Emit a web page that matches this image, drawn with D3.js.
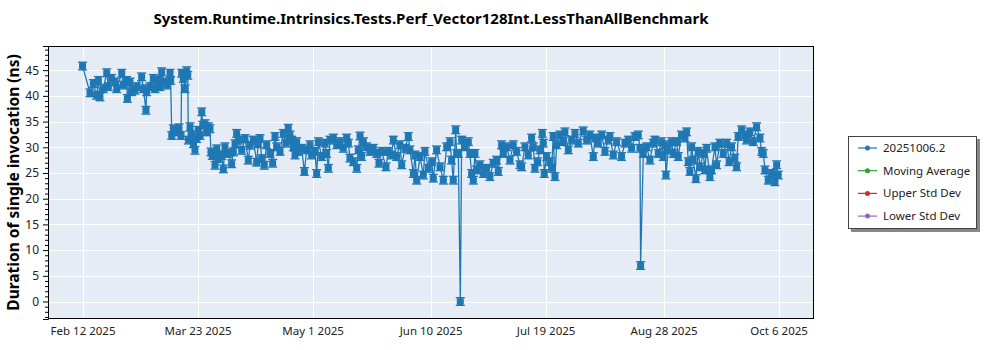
<!DOCTYPE html>
<html>
<head>
<meta charset="utf-8">
<script src="https://cdn.jsdelivr.net/npm/d3@7"></script>
<style>
  html, body { margin: 0; padding: 0; background: #fff; }
  svg { display: block; }
  text { font-family: "Noto Sans", "Open Sans", sans-serif; }
</style>
</head>
<body>
<svg id="chart" width="1000" height="350"></svg>
<script>
const title = "System.Runtime.Intrinsics.Tests.Perf_Vector128Int.LessThanAllBenchmark";
const yLabel = "Duration of single invocation (ns)";
const xTickLabels = ["Feb 12 2025", "Mar 23 2025", "May 1 2025", "Jun 10 2025", "Jul 19 2025", "Aug 28 2025", "Oct 6 2025"];
const yTicks = [0, 5, 10, 15, 20, 25, 30, 35, 40, 45];
const legendLabels = ["20251006.2", "Moving Average", "Upper Std Dev", "Lower Std Dev"];
const legendColors = ["#1f77b4", "#2ca02c", "#d62728", "#9467bd"];

const dates = [
"2025-02-12 00","2025-02-14 13","2025-02-15 16","2025-02-16 19","2025-02-17 09","2025-02-17 22","2025-02-19 01","2025-02-20 05","2025-02-20 18","2025-02-21 21",
"2025-02-23 00","2025-02-23 14","2025-02-25 07","2025-02-25 20","2025-02-26 23","2025-02-27 05","2025-02-28 02","2025-02-28 16","2025-03-01 19","2025-03-02 09",
"2025-03-04 01","2025-03-04 15","2025-03-05 12","2025-03-05 18","2025-03-06 21","2025-03-08 00","2025-03-08 14","2025-03-09 17","2025-03-10 06","2025-03-10 20",
"2025-03-11 18","2025-03-12 13","2025-03-13 16","2025-03-13 21","2025-03-14 06","2025-03-14 19","2025-03-15 22","2025-03-16 17","2025-03-17 09","2025-03-17 15",
"2025-03-18 04","2025-03-18 18","2025-03-19 07","2025-03-19 16","2025-03-19 21","2025-03-20 11","2025-03-21 00","2025-03-21 14","2025-03-22 03","2025-03-22 17",
"2025-03-23 06","2025-03-23 20","2025-03-24 10","2025-03-24 18","2025-03-25 13","2025-03-26 02","2025-03-26 16","2025-03-27 05","2025-03-27 13","2025-03-28 00",
"2025-03-28 22","2025-03-29 12","2025-03-30 01","2025-03-31 04","2025-03-31 18","2025-04-01 07","2025-04-02 11","2025-04-03 13","2025-04-04 03","2025-04-04 17",
"2025-04-05 06","2025-04-05 20","2025-04-06 23","2025-04-08 02","2025-04-09 05","2025-04-09 19","2025-04-10 22","2025-04-12 01","2025-04-12 14","2025-04-13 04",
"2025-04-13 18","2025-04-14 15","2025-04-15 10","2025-04-16 13","2025-04-17 11","2025-04-18 06","2025-04-18 20","2025-04-19 23","2025-04-21 02","2025-04-21 23",
"2025-04-22 18","2025-04-23 08","2025-04-23 22","2025-04-24 11","2025-04-25 01","2025-04-25 14","2025-04-26 04","2025-04-27 07","2025-04-28 05","2025-04-29 00",
"2025-04-30 03","2025-04-30 16","2025-05-01 19","2025-05-02 09","2025-05-02 23","2025-05-04 02","2025-05-05 05","2025-05-05 18","2025-05-06 08","2025-05-06 22",
"2025-05-08 01","2025-05-09 04","2025-05-10 07","2025-05-11 10","2025-05-12 13","2025-05-13 03","2025-05-13 16","2025-05-14 19","2025-05-15 23","2025-05-16 12",
"2025-05-17 02","2025-05-17 15","2025-05-18 05","2025-05-19 08","2025-05-20 11","2025-05-21 14","2025-05-22 17","2025-05-23 12","2025-05-24 10","2025-05-25 21",
"2025-05-26 16","2025-05-27 19","2025-05-28 09","2025-05-29 12","2025-05-30 15","2025-05-31 05","2025-06-01 08","2025-06-02 11","2025-06-03 00","2025-06-04 04",
"2025-06-04 17","2025-06-05 07","2025-06-06 10","2025-06-07 13","2025-06-08 02","2025-06-09 06","2025-06-10 09","2025-06-10 22","2025-06-12 01","2025-06-13 05",
"2025-06-14 08","2025-06-15 11","2025-06-16 14","2025-06-17 03","2025-06-17 17","2025-06-18 12","2025-06-18 20","2025-06-19 10","2025-06-20 02","2025-06-20 13",
"2025-06-21 16","2025-06-22 19","2025-06-23 08","2025-06-23 22","2025-06-24 12","2025-06-25 01","2025-06-25 15","2025-06-26 18","2025-06-27 21","2025-06-29 00",
"2025-06-30 03","2025-07-01 06","2025-07-02 09","2025-07-02 23","2025-07-04 02","2025-07-04 16","2025-07-05 19","2025-07-06 22","2025-07-08 01","2025-07-09 04",
"2025-07-10 07","2025-07-10 21","2025-07-12 00","2025-07-13 03","2025-07-14 06","2025-07-14 20","2025-07-15 09","2025-07-16 07","2025-07-17 02","2025-07-17 21",
"2025-07-18 05","2025-07-18 13","2025-07-19 08","2025-07-20 11","2025-07-21 01","2025-07-21 14","2025-07-22 04","2025-07-22 18","2025-07-23 21","2025-07-25 00",
"2025-07-25 13","2025-07-26 17","2025-07-27 20","2025-07-28 23","2025-07-30 02","2025-07-31 18","2025-08-01 22","2025-08-03 01","2025-08-04 04","2025-08-04 18",
"2025-08-05 21","2025-08-07 00","2025-08-08 03","2025-08-09 06","2025-08-09 19","2025-08-10 23","2025-08-12 02","2025-08-13 18","2025-08-14 22","2025-08-16 01",
"2025-08-17 04","2025-08-18 07","2025-08-19 10","2025-08-20 00","2025-08-20 05","2025-08-21 03","2025-08-22 06","2025-08-23 09","2025-08-24 12","2025-08-25 01",
"2025-08-26 05","2025-08-27 08","2025-08-27 21","2025-08-28 11","2025-08-28 19","2025-08-29 14","2025-08-30 17","2025-08-31 07","2025-09-01 10","2025-09-01 23",
"2025-09-03 02","2025-09-04 06","2025-09-04 19","2025-09-05 09","2025-09-05 22","2025-09-06 12","2025-09-07 01","2025-09-07 23","2025-09-08 18","2025-09-09 08",
"2025-09-10 11","2025-09-11 00","2025-09-11 14","2025-09-12 17","2025-09-13 06","2025-09-14 10","2025-09-14 23","2025-09-16 02","2025-09-17 06","2025-09-18 09",
"2025-09-19 06","2025-09-20 01","2025-09-21 04","2025-09-21 18","2025-09-22 07","2025-09-23 11","2025-09-24 14","2025-09-25 03","2025-09-26 06","2025-09-27 10",
"2025-09-28 13","2025-09-29 16","2025-09-30 06","2025-09-30 19","2025-10-01 09","2025-10-02 12","2025-10-03 15","2025-10-04 18","2025-10-05 08","2025-10-05 21"
];

const values = [
45.8,40.6,42.4,40.1,43.0,39.8,41.4,44.5,41.8,43.4,
42.7,41.4,44.4,42.1,43.0,39.5,42.7,40.8,41.1,41.8,
43.7,41.4,37.2,40.8,41.8,43.4,41.4,43.0,41.8,44.7,
42.7,42.1,44.4,43.0,32.3,33.6,33.0,33.8,32.3,44.4,
43.4,41.4,44.9,44.0,31.4,34.0,32.3,30.7,29.4,31.7,
33.3,32.3,36.9,34.3,34.6,33.0,34.0,33.6,29.1,28.4,
26.5,29.7,27.8,28.4,25.8,30.1,28.8,26.8,29.1,30.7,
32.7,31.4,29.4,31.7,27.5,30.4,31.4,27.1,30.7,31.7,
27.8,26.5,30.5,28.8,26.9,32.1,30.1,29.2,32.7,30.8,
33.7,32.4,31.4,30.1,28.5,31.1,29.2,29.8,25.3,29.5,
30.5,28.5,29.2,24.9,31.1,28.2,30.8,28.8,25.9,31.4,
31.8,30.5,31.1,29.8,31.8,30.8,27.9,27.2,25.9,29.5,
32.2,28.2,31.1,30.1,29.2,29.8,28.8,26.9,29.2,26.2,
29.2,28.5,31.4,28.2,30.5,26.6,29.8,32.1,29.5,24.9,
28.5,23.6,28.2,24.6,29.2,25.9,27.2,24.0,29.5,26.2,
23.6,30.1,31.1,27.5,23.6,33.4,28.8,28.8,0.0,31.4,
30.1,31.1,28.8,24.9,23.6,28.8,25.6,26.6,24.9,25.9,
24.3,26.9,27.5,25.3,30.5,28.8,30.1,27.5,30.5,29.2,
26.6,26.2,30.1,28.5,31.8,30.1,25.9,27.2,29.5,32.7,
30.8,24.9,28.2,27.2,25.9,32.1,24.3,30.5,32.4,31.1,
33.0,29.5,31.4,32.7,30.8,33.2,31.4,32.4,28.2,31.8,
30.8,32.4,29.2,31.4,32.1,28.5,31.1,28.2,30.8,31.4,
29.8,32.1,32.4,29.8,7.0,28.8,30.1,27.5,30.8,31.4,
28.8,31.1,28.2,30.5,24.6,29.5,31.1,28.8,31.1,28.2,
32.4,31.8,33.0,27.2,25.3,30.1,27.5,23.9,29.2,26.2,
28.8,25.6,29.8,24.3,25.6,30.1,26.6,30.8,28.8,30.8,
27.2,30.1,27.9,26.2,32.1,33.4,32.4,31.4,33.0,31.1,
34.0,31.8,29.2,28.8,25.6,23.6,24.9,23.3,26.6,24.6
];

const parse = d3.timeParse("%Y-%m-%d %H");
const parseTick = d3.timeParse("%b %d %Y");
const data = dates.map((d, i) => ({ t: parse(d), v: values[i] }));

const svg = d3.select("#chart");
const L = 48, R = 814, T = 46, B = 319;

const x = d3.scaleTime()
  .domain([parse("2025-01-31 07"), parse("2025-10-18 00")])
  .range([L, R]);
const y = d3.scaleLinear().domain([-3.4, 49.7]).range([B, T]);

svg.append("rect").attr("x", L).attr("y", T).attr("width", R - L).attr("height", B - T)
  .attr("fill", "#e5ecf6");

const xTickDates = xTickLabels.map(parseTick);

const grid = svg.append("g").attr("stroke", "#fff").attr("stroke-width", 1);
grid.selectAll("line.v").data(xTickDates).join("line")
  .attr("x1", d => Math.round(x(d)) + 0.5).attr("x2", d => Math.round(x(d)) + 0.5)
  .attr("y1", T).attr("y2", B);
grid.selectAll("line.h").data(yTicks).join("line")
  .attr("x1", L).attr("x2", R)
  .attr("y1", d => Math.round(y(d)) + 0.5).attr("y2", d => Math.round(y(d)) + 0.5);

svg.append("clipPath").attr("id", "clip").append("rect")
  .attr("x", L).attr("y", T).attr("width", R - L).attr("height", B - T);

const plot = svg.append("g").attr("clip-path", "url(#clip)");
const color = legendColors[0];

plot.append("path").datum(data)
  .attr("fill", "none").attr("stroke", color).attr("stroke-width", 1.3)
  .attr("d", d3.line().x(d => x(d.t)).y(d => y(d.v)));

const marks = plot.append("g").attr("fill", color).attr("stroke", color);
const pts = marks.selectAll("g").data(data).join("g")
  .attr("transform", d => `translate(${x(d.t)},${y(d.v)})`);
pts.append("rect").attr("x", -3.5).attr("y", -3.5).attr("width", 7).attr("height", 7).attr("rx", 1.5).attr("stroke", "none");
pts.append("line").attr("x1", -4.5).attr("x2", 4.5).attr("y1", -3.8).attr("y2", -3.8).attr("stroke-width", 1.4);
pts.append("line").attr("x1", -4.5).attr("x2", 4.5).attr("y1", 3.8).attr("y2", 3.8).attr("stroke-width", 1.4);

svg.append("rect").attr("x", L + 0.5).attr("y", T + 0.5).attr("width", R - L - 1).attr("height", B - T - 1)
  .attr("fill", "none").attr("stroke", "#000").attr("stroke-width", 1);

const yAxis = d3.axisLeft(y).tickValues(yTicks).tickSize(5).tickFormat(d3.format("d"));
const yg = svg.append("g").attr("transform", `translate(${L},0)`).call(yAxis);
yg.select(".domain").attr("stroke", "#000");
yg.selectAll("text").attr("font-size", 12).attr("fill", "#222").attr("dx", -1);
const minor = d3.range(-3, 50).filter(v => v % 5 !== 0);
const yMinor = d3.axisLeft(y).tickValues(minor).tickSize(3).tickFormat("");
const ymg = svg.append("g").attr("transform", `translate(${L},0)`).call(yMinor);
ymg.select(".domain").remove();

const xAxis = d3.axisBottom(x).tickValues(xTickDates).tickSize(0).tickPadding(8)
  .tickFormat((d, i) => xTickLabels[i]);
const xg = svg.append("g").attr("transform", `translate(0,${B})`).call(xAxis);
xg.select(".domain").remove();
xg.selectAll("text").attr("font-size", 11.5).attr("fill", "#222");

svg.append("text").attr("x", (L + R) / 2).attr("y", 24).attr("text-anchor", "middle")
  .attr("font-size", 15).attr("font-weight", "bold").attr("fill", "#000").text(title);

svg.append("text").attr("transform", `translate(19,${(T + B) / 2}) rotate(-90)`)
  .attr("text-anchor", "middle").attr("font-size", 15.5).attr("font-weight", "bold").attr("fill", "#000")
  .text(yLabel);

const lg = svg.append("g");
lg.append("rect").attr("x", 851).attr("y", 139).attr("width", 129).attr("height", 93).attr("fill", "#888");
lg.append("rect").attr("x", 848.5).attr("y", 136.5).attr("width", 128).attr("height", 92)
  .attr("fill", "#fff").attr("stroke", "#444").attr("stroke-width", 1);
const items = lg.selectAll("g.item").data(legendLabels).join("g")
  .attr("transform", (d, i) => `translate(858,${148 + i * 22.7})`);
items.append("line").attr("x1", 0).attr("x2", 19).attr("y1", 0).attr("y2", 0)
  .attr("stroke", (d, i) => legendColors[i]).attr("stroke-width", 1.2);
items.append("circle").attr("cx", 9.5).attr("cy", 0).attr("r", 2.5)
  .attr("fill", (d, i) => legendColors[i]);
items.append("text").attr("x", 25).attr("y", 4).attr("font-size", 11.5).attr("fill", "#222")
  .text(d => d);
</script>
</body>
</html>
